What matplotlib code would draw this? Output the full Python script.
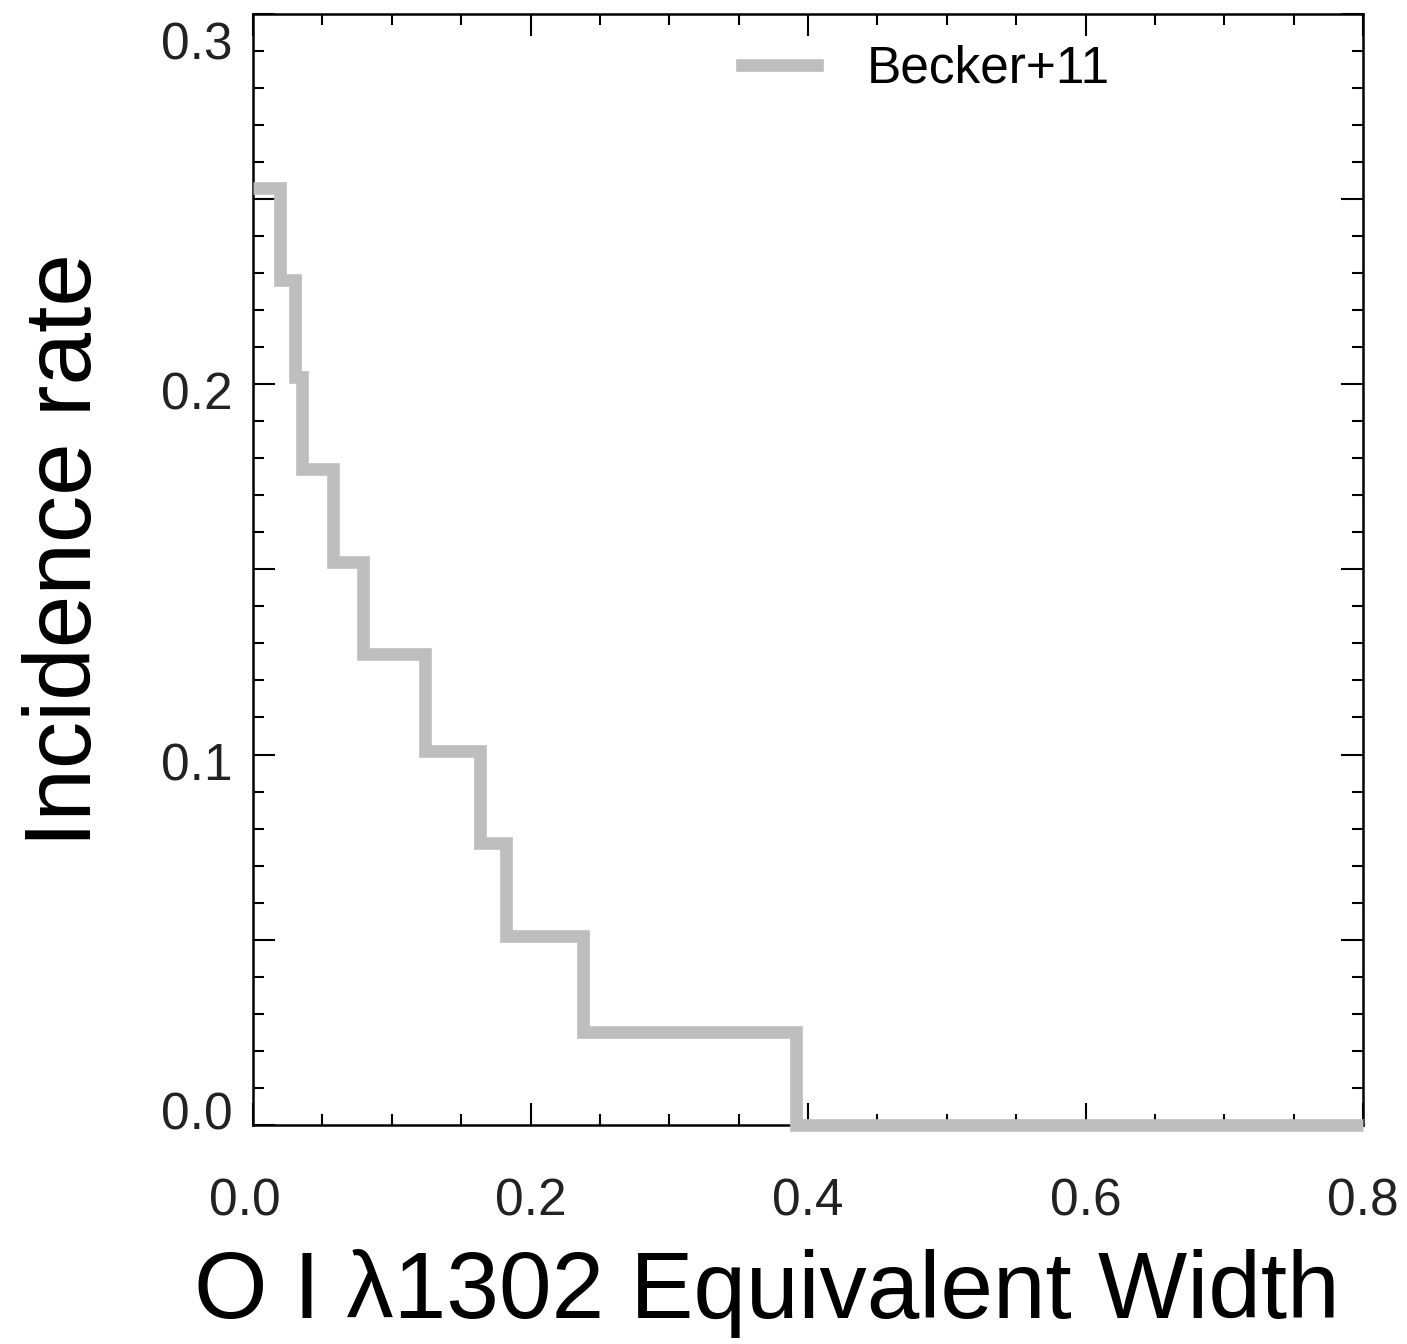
import matplotlib
matplotlib.use("Agg")
import matplotlib.pyplot as plt
import matplotlib.transforms as mtransforms
from matplotlib.ticker import MultipleLocator, FixedLocator

# step histogram
bin_edges = [0.0, 0.0195, 0.0305, 0.0355, 0.0577, 0.079, 0.1237, 0.1638, 0.182, 0.2378, 0.391, 0.8]
incidence = [0.253, 0.228, 0.202, 0.177, 0.152, 0.127, 0.101, 0.076, 0.051, 0.025, 0.0]
serie_label = "Becker+11"

x_ticks = [0.0, 0.2, 0.4, 0.6, 0.8]
x_ticklabels = ["0.0", "0.2", "0.4", "0.6", "0.8"]
y_ticks = [0.0, 0.05, 0.1, 0.15, 0.2, 0.25, 0.3]
y_ticklabels = ["0.0", "", "0.1", "", "0.2", "", "0.3"]

plt.rcParams['font.family'] = ['Liberation Sans', 'DejaVu Sans']

W, H = 1407, 1344
fig = plt.figure(figsize=(W / 100, H / 100), dpi=100)
ax = fig.add_axes([253 / W, 1 - 1125 / H, 1110 / W, 1111.5 / H])

ax.stairs(incidence, bin_edges, color='#bebebe', linewidth=9.1, baseline=None,
          clip_on=False, zorder=3, label=serie_label)

ax.set_xlim(0, 0.8)
ax.set_ylim(0, 0.3)

ax.xaxis.set_major_locator(FixedLocator(x_ticks))
ax.xaxis.set_minor_locator(MultipleLocator(0.05))
ax.set_xticklabels(x_ticklabels)
ax.yaxis.set_major_locator(FixedLocator(y_ticks))
ax.yaxis.set_minor_locator(MultipleLocator(0.01))
ax.set_yticklabels(y_ticklabels)

ax.tick_params(which='both', direction='in', top=True, right=True, width=1.5, colors='black')
ax.tick_params(which='major', length=16)
ax.tick_params(which='minor', length=8)
ax.tick_params(axis='x', which='major', labelsize=37, pad=38, labelcolor='#222222')
ax.tick_params(axis='y', which='major', labelsize=37, pad=15, labelcolor='#222222')
for s in ax.spines.values():
    s.set_linewidth(1.8)

# IDL-like label offsets (pixels)
y_shift = {"0.0": 15, "0.1": -7, "0.2": -7, "0.3": -27}
for lab in ax.get_yticklabels():
    d = y_shift.get(lab.get_text(), 0)
    lab.set_transform(lab.get_transform() + mtransforms.Affine2D().translate(0, d))
for lab in ax.get_xticklabels():
    if lab.get_text() == "0.0":
        lab.set_transform(lab.get_transform() + mtransforms.Affine2D().translate(-8, 0))

ax.set_xlabel("O I λ1302 Equivalent Width", fontsize=68)
ax.xaxis.set_label_coords((767 - 253) / 1110, (1125 - 1249) / 1111.5)
ax.set_ylabel("Incidence rate", fontsize=68)
ax.yaxis.set_label_coords((111 - 253) / 1110, (1125 - 550) / 1111.5)

ax.legend(loc='center left', bbox_to_anchor=(742 / W, 1 - 69 / H),
          bbox_transform=fig.transFigure, frameon=False, fontsize=37,
          handlelength=74 / 51, handletextpad=50 / 51, borderpad=0,
          borderaxespad=0)

fig.savefig("out.png", dpi=100)
